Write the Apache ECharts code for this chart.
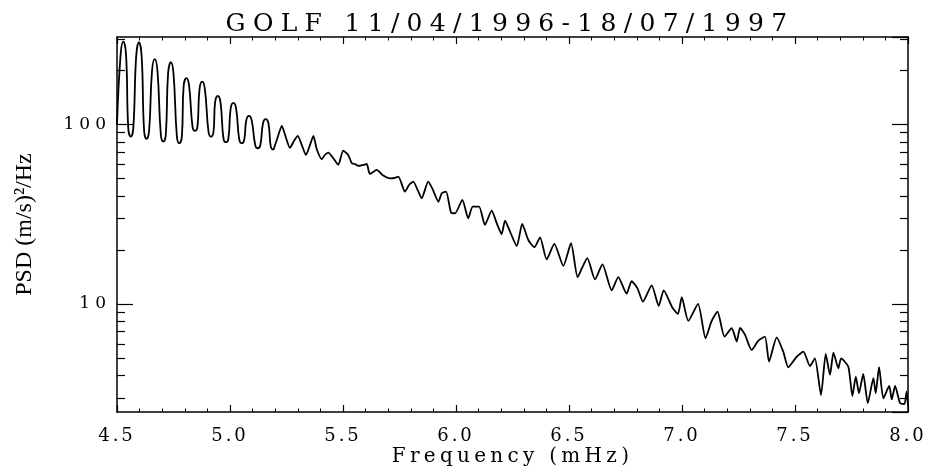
<!DOCTYPE html>
<html><head><meta charset="utf-8">
<script src="https://cdn.jsdelivr.net/npm/echarts@6/dist/echarts.min.js"></script>
<style>html,body{margin:0;padding:0;background:#fff}#c{width:934px;height:468px}</style>
</head><body><div id="c"></div>
<script>
const TITLE = 'GOLF 11/04/1996-18/07/1997';
const X_NAME = 'Frequency (mHz)';
const Y_NAME = 'PSD (m/s)\u00B2/Hz';
const X_MIN = 4.5, X_MAX = 8.0, X_STEP = 0.5;
const Y_MIN = 2.5, Y_MAX = 307;
const Y_MAJOR = [10, 100];
const Y_MINOR = [3,4,5,6,7,8,9,20,30,40,50,60,70,80,90,200,300];

const FREQ = [4.500,4.516,4.528,4.540,4.550,4.561,4.572,4.585,4.597,4.609,4.620,4.631,4.642,4.655,4.667,4.679,4.694,4.705,4.716,4.726,4.738,4.750,4.765,4.776,4.787,4.795,4.807,4.819,4.834,4.845,
4.856,4.865,4.877,4.889,4.905,4.916,4.927,4.934,4.946,4.958,4.971,4.982,4.993,5.003,5.015,5.027,5.041,5.052,5.063,5.072,5.084,5.096,5.112,5.123,5.134,5.146,5.158,5.170,5.181,5.192,
5.210,5.229,5.248,5.265,5.283,5.300,5.319,5.336,5.354,5.369,5.384,5.406,5.420,5.435,5.457,5.479,5.501,5.523,5.539,5.553,5.568,5.590,5.605,5.619,5.649,5.678,5.708,5.726,5.745,5.774,5.792,5.811,5.830,5.848,5.877,
5.898,5.922,5.937,5.956,5.978,5.996,6.028,6.054,6.074,6.102,6.128,6.158,6.180,6.202,6.217,6.239,6.269,6.293,6.320,6.347,6.372,6.401,6.435,6.475,6.509,6.538,
6.558,6.581,6.615,6.648,6.689,6.718,6.755,6.777,6.803,6.827,6.866,6.897,6.919,6.958,6.982,6.999,7.028,7.071,7.104,7.130,7.157,7.188,7.220,7.242,7.257,
7.279,7.308,7.338,7.367,7.385,7.419,7.448,7.470,7.508,7.537,7.566,7.588,7.615,7.636,7.655,7.670,7.692,7.704,7.736,7.754,7.769,7.783,7.802,7.822,7.847,7.857,7.872,7.891,7.917,7.928,7.943,7.965,7.984,7.994,8.000];

const PSD = [99.4,245,289,245,94.8,85.5,94.8,241,287,241,92.2,83.0,92.2,199,231,199,87.7,80.2,87.7,192,222,192,85.8,78.6,85.8,164.5,181,164.5,97.5,92.0,
97.5,156.9,173,156.9,90.8,85.5,90.8,132.7,144,132.7,83.7,79.6,83.7,122.9,132,122.9,82.2,78.6,82.2,105.3,111.5,105.3,76.3,73.7,76.3,101.6,107,101.6,74.5,72.1,
84.1,98.1,84.1,74.0,80.9,86.3,75.9,67.6,76.9,86.3,72.7,64.0,67.6,69.6,64.8,59.5,71.4,67.6,60.8,60.2,58.7,59.5,60.2,53.0,55.8,51.9,50.1,50.3,51.2,42.2,46.0,48.0,43.2,38.8,48.0,
43.2,37.1,41.4,42.2,32.3,32.0,38.0,30.0,34.8,34.8,27.6,33.1,28.2,24.5,29.1,25.3,21.0,27.9,22.7,20.7,23.5,17.7,21.6,16.3,21.8,14.1,
15.9,18.0,13.7,16.6,11.9,14.1,11.4,13.4,12.2,10.3,12.7,9.75,11.9,9.52,8.80,10.9,8.04,10.0,6.44,7.97,9.06,6.57,7.32,6.17,7.35,
6.72,5.54,6.25,6.57,4.77,6.52,5.42,4.44,5.09,5.42,4.51,4.98,3.11,5.27,4.02,5.35,4.38,4.98,4.47,3.07,3.94,3.18,4.07,2.80,3.86,3.18,4.44,2.98,3.49,2.94,3.49,2.80,2.77,3.25,2.70];

// index where the regular low-frequency oscillation gives way to the noisy part
const SPLIT = 60;

const BLACK = '#000';
const LABEL_FONT = 'DejaVu Serif';
// letter spacing (px) per font size, to mimic the wide Hershey lettering
const SPACING = {25: 7.3, 20: 4.3, 18: 3, 17: 5};
(function () {
  const proto = CanvasRenderingContext2D.prototype;
  const desc = Object.getOwnPropertyDescriptor(proto, 'font');
  if (!desc || !('letterSpacing' in proto)) return;
  Object.defineProperty(proto, 'font', {
    configurable: true, enumerable: desc.enumerable,
    get() { return desc.get.call(this); },
    set(v) {
      desc.set.call(this, v);
      const m = /(\d+(?:\.\d+)?)px/.exec(v);
      const s = m ? SPACING[Math.round(+m[1])] : 0;
      try { this.letterSpacing = (s || 0) + 'px'; } catch (e) {}
    }
  });
})();

const lineStyle = {color: BLACK, width: 1.5};

function xAxisDef(pos, showLabel) {
  return {
    type: 'value', position: pos, min: X_MIN, max: X_MAX, interval: X_STEP,
    axisLine: {show: true, onZero: false, lineStyle},
    axisTick: {show: true, inside: true, length: 7, lineStyle: {color: BLACK, width: 1.2}},
    minorTick: {show: true, splitNumber: 5, length: 3.5, lineStyle: {color: BLACK, width: 1}},
    splitLine: {show: false}, minorSplitLine: {show: false},
    axisLabel: showLabel ? {show: true, margin: 14, color: BLACK, fontFamily: LABEL_FONT, fontSize: 18,
      formatter: v => v.toFixed(1)} : {show: false},
    name: showLabel ? X_NAME : '', nameLocation: 'middle', nameGap: 33, nameMoveOverlap: false,
    nameTextStyle: {color: BLACK, fontFamily: LABEL_FONT, fontSize: 20}
  };
}
function yLogAxis(pos, showLabel) {
  return {
    type: 'log', logBase: 10, position: pos, min: Y_MIN, max: Y_MAX,
    axisLine: {show: true, onZero: false, lineStyle},
    axisTick: {show: true, inside: true, length: 16, lineStyle: {color: BLACK, width: 1.2}},
    splitLine: {show: false},
    axisLabel: showLabel ? {show: true, margin: 6, color: BLACK, fontFamily: LABEL_FONT, fontSize: 17,
      showMinLabel: false, showMaxLabel: false,
      formatter: v => (Y_MAJOR.indexOf(Math.round(v)) >= 0 ? String(Math.round(v)) : '')} : {show: false},
    name: showLabel ? Y_NAME : '', nameLocation: 'middle', nameGap: 80, nameMoveOverlap: false,
    nameTextStyle: {color: BLACK, fontFamily: 'Liberation Serif', fontSize: 24}
  };
}
function yMinorAxis(pos) {
  return {
    type: 'value', position: pos, min: Math.log10(Y_MIN), max: Math.log10(Y_MAX),
    axisLine: {show: false},
    axisTick: {show: true, inside: true, length: 8, customValues: Y_MINOR.map(v => Math.log10(v)),
      lineStyle: {color: BLACK, width: 1.2}},
    splitLine: {show: false},
    axisLabel: {show: false}
  };
}

const points = FREQ.map((f, i) => [f, PSD[i]]);
const chart = echarts.init(document.getElementById('c'), null, {renderer: 'canvas'});
chart.setOption({
  animation: false,
  backgroundColor: '#fff',
  title: {text: TITLE, left: 505, top: 3, textAlign: 'center',
    textStyle: {color: BLACK, fontFamily: LABEL_FONT, fontSize: 25, fontWeight: 'normal'}},
  grid: {left: 117, right: 26, top: 37, bottom: 56, containLabel: false, outerBoundsMode: 'none'},
  xAxis: [xAxisDef('bottom', true), xAxisDef('top', false)],
  yAxis: [yLogAxis('left', true), yMinorAxis('left'), yLogAxis('right', false), yMinorAxis('right')],
  series: [{
    type: 'line', xAxisIndex: 0, yAxisIndex: 0,
    data: points.slice(0, SPLIT),
    showSymbol: false, symbol: 'none', smooth: 0.45,
    lineStyle: {color: BLACK, width: 1.8}
  }, {
    type: 'line', xAxisIndex: 0, yAxisIndex: 0,
    data: points.slice(SPLIT - 1),
    showSymbol: false, symbol: 'none', smooth: 0.2,
    lineStyle: {color: BLACK, width: 1.8}
  }]
});
</script></body></html>
